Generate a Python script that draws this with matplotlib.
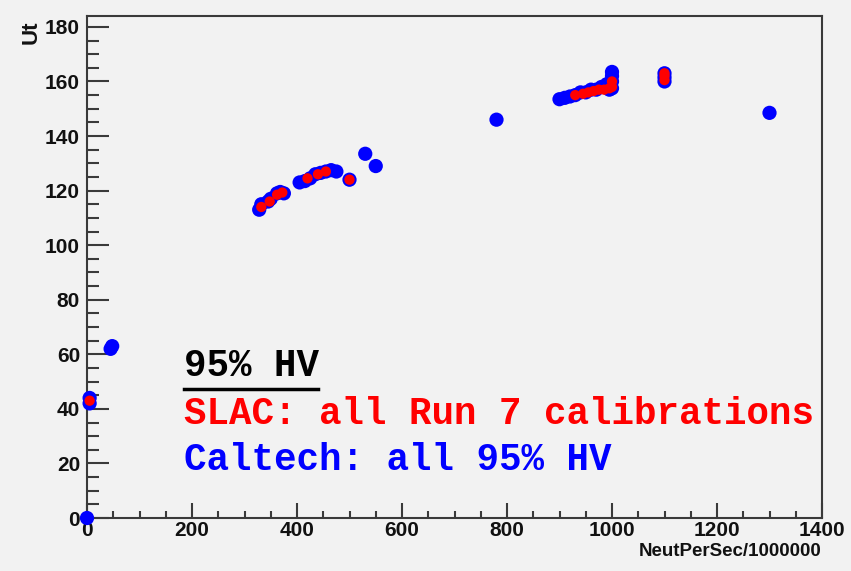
import matplotlib
matplotlib.use("Agg")
import matplotlib.pyplot as plt
from matplotlib.ticker import MultipleLocator
from matplotlib.lines import Line2D

# Caltech measurements at 95% HV
caltech_x = [0, 5, 5, 45, 48,
             328, 332, 345, 350, 362, 368, 375,
             405, 415, 425, 435, 445, 455, 465, 475,
             500, 530, 550, 780,
             900, 910, 920, 930, 940, 950, 960, 970, 980, 990,
             995, 1000, 1000, 1000, 1000,
             1100, 1100, 1100, 1300]
caltech_y = [0, 42, 44, 62, 63,
             113, 115, 116, 117, 119, 119.5, 119,
             123, 123.5, 124.5, 126, 126.5, 127, 127.5, 127,
             124, 133.5, 129, 146,
             153.5, 154, 154.5, 155, 156, 156, 157, 157, 158, 159,
             157, 157.5, 160, 162, 163.5,
             160, 161.5, 163, 148.5]

# SLAC: all Run 7 calibrations
slac_x = [5, 332, 348, 362, 372, 420, 440, 455, 500,
          930, 945, 955, 965, 975, 985, 995, 1000, 1000,
          1100, 1100, 1100]
slac_y = [43, 114, 116, 118.5, 119.3, 124.5, 126, 127, 124,
          155, 155.5, 156, 156.5, 157, 157, 157.5, 158, 160,
          160.5, 162, 163]

W, H = 851, 571
bg = "#f2f2f2"
fig = plt.figure(figsize=(W / 100, H / 100), dpi=100, facecolor=bg)
ax = fig.add_axes([87 / W, 1 - 518 / H, (822 - 87) / W, (518 - 16) / H], facecolor=bg)

ax.scatter(caltech_x, caltech_y, s=105, color="#0000ff", edgecolors="none",
           zorder=3, clip_on=False)
ax.scatter(slac_x, slac_y, s=55, color="#ff0000", edgecolors="none",
           zorder=4, clip_on=False)

ax.set_xlim(0, 1400)
ax.set_ylim(0, 184)

spine_c = "#3a3a3a"
for s in ax.spines.values():
    s.set_color(spine_c)
    s.set_linewidth(1.5)

ax.xaxis.set_major_locator(MultipleLocator(200))
ax.xaxis.set_minor_locator(MultipleLocator(50))
ax.yaxis.set_major_locator(MultipleLocator(20))
ax.yaxis.set_minor_locator(MultipleLocator(5))

ax.tick_params(axis="both", which="both", direction="in", colors=spine_c,
               top=False, right=False, width=1.5)
ax.tick_params(axis="x", which="major", length=11, pad=2)
ax.tick_params(axis="x", which="minor", length=5)
ax.tick_params(axis="y", which="major", length=16, pad=5)
ax.tick_params(axis="y", which="minor", length=8.5)

for lab in ax.get_xticklabels() + ax.get_yticklabels():
    lab.set_fontfamily("Liberation Sans")
    lab.set_fontweight("bold")
    lab.set_fontsize(15)
    lab.set_color("#111111")

fig.text(822 / W, 1 - 552 / H, "NeutPerSec/1000000", ha="right", va="center",
         fontsize=13.5, fontweight="bold", family="Liberation Sans", color="#111111")
fig.text(31 / W, 1 - 32 / H, "Ut", ha="center", va="center", rotation=90,
         fontsize=16, fontweight="bold", family="Liberation Sans", color="#111111")

mono = "Liberation Mono"
fig.text(184 / W, 1 - 366 / H, "95% HV", ha="left", va="center",
         fontsize=27, fontweight="bold", family=mono, color="black")
fig.add_artist(Line2D([184 / W, 318 / W], [1 - 389 / H, 1 - 389 / H],
                      transform=fig.transFigure, color="black", lw=2.5))
fig.text(184 / W, 1 - 414 / H, "SLAC: all Run 7 calibrations", ha="left", va="center",
         fontsize=27, fontweight="bold", family=mono, color="#ff0000")
fig.text(184 / W, 1 - 460 / H, "Caltech: all 95% HV", ha="left", va="center",
         fontsize=27, fontweight="bold", family=mono, color="#0000ff")

fig.savefig("out.png", dpi=100, facecolor=bg)
